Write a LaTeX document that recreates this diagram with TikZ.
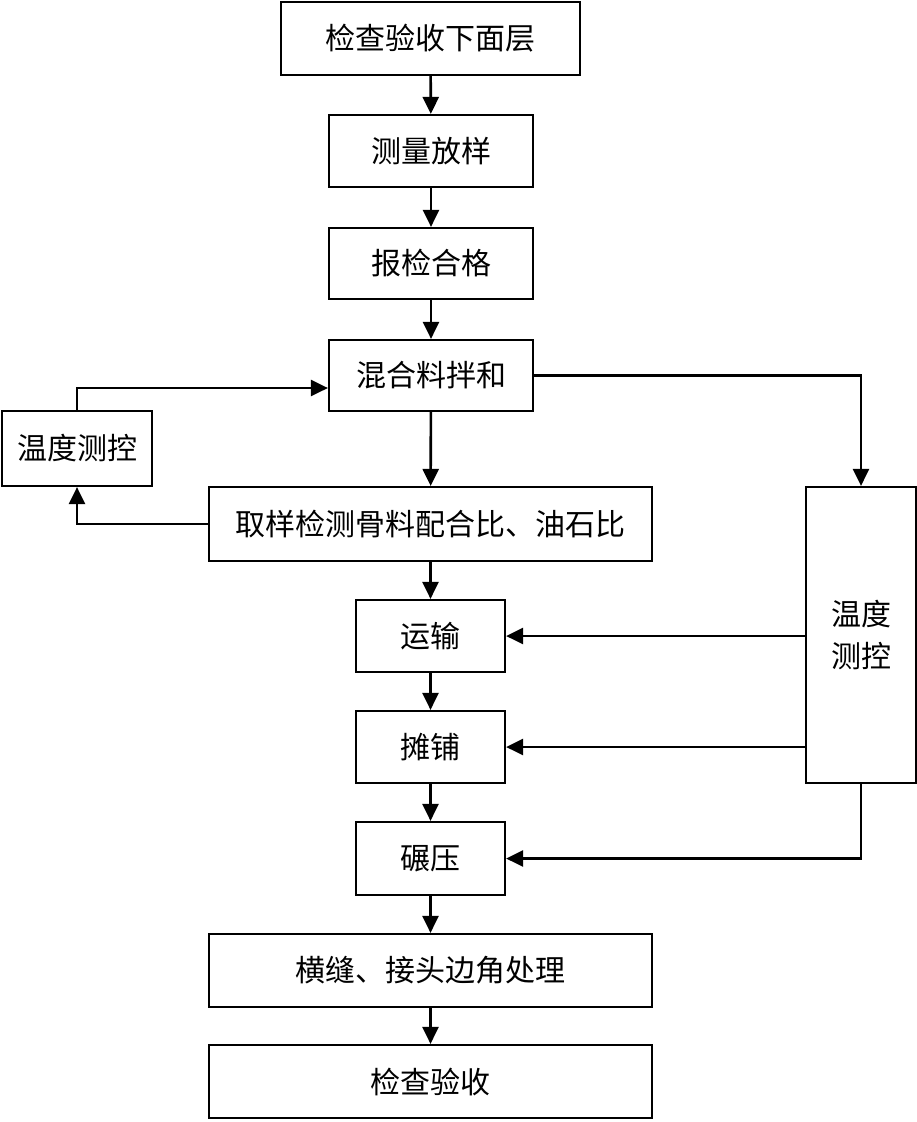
\documentclass[tikz,border=0pt]{standalone}
\usepackage{fontspec}
\setmainfont{Noto Sans CJK SC}[BoldFont={Noto Sans CJK SC}]
\usetikzlibrary{arrows.meta}
\tikzset{
  box/.style={draw, line width=2.2pt, inner sep=0pt, align=center, font=\fontsize{30}{42}\selectfont},
  conn/.style={line width=2.6pt, -{Triangle[length=17pt,width=16pt]}}
}
\begin{document}
\begin{tikzpicture}[x=1pt,y=-1pt]
\useasboundingbox (0,0) rectangle (917,1122);
\node[box, minimum width=299pt, minimum height=73pt] (b1) at (430.5,38.5) {检查验收下面层};
\node[box, minimum width=204pt, minimum height=72pt] (b2) at (431,151) {测量放样};
\node[box, minimum width=204pt, minimum height=71pt] (b3) at (431,263.5) {报检合格};
\node[box, minimum width=204pt, minimum height=71pt] (b4) at (431,375.5) {混合料拌和};
\node[box, minimum width=150pt, minimum height=75pt] (L) at (77,448.5) {温度测控};
\node[box, minimum width=443pt, minimum height=74pt] (b5) at (430.5,524) {取样检测骨料配合比、油石比};
\node[box, minimum width=149pt, minimum height=72pt] (b6) at (430.5,636) {运输};
\node[box, minimum width=149pt, minimum height=72pt] (b7) at (430.5,747) {摊铺};
\node[box, minimum width=149pt, minimum height=73pt] (b8) at (430.5,858.5) {碾压};
\node[box, minimum width=443pt, minimum height=73pt] (b9) at (430.5,970.5) {横缝、接头边角处理};
\node[box, minimum width=443pt, minimum height=73pt] (b10) at (430.5,1081.5) {检查验收};
\node[box, minimum width=110pt, minimum height=296pt] (R) at (861,635) {温度\\测控};

\draw[conn] (b1) -- (b2);
\draw[conn] (b2) -- (b3);
\draw[conn] (b3) -- (b4);
\draw[conn] (b4) -- (b5);
\draw[conn] (b5) -- (b6);
\draw[conn] (b6) -- (b7);
\draw[conn] (b7) -- (b8);
\draw[conn] (b8) -- (b9);
\draw[conn] (b9) -- (b10);

\draw[conn] (b4.east) -| (R.north);
\draw[conn] (R.west |- b6.east) -- (b6.east);
\draw[conn] (R.west |- b7.east) -- (b7.east);
\draw[conn] (R.south) |- (b8.east);

\coordinate (ltop) at (b4.west |- 0,388);
\draw[conn] (L.north) |- (ltop);
\draw[conn] (b5.west) -| (L.south);
\end{tikzpicture}
\end{document}
